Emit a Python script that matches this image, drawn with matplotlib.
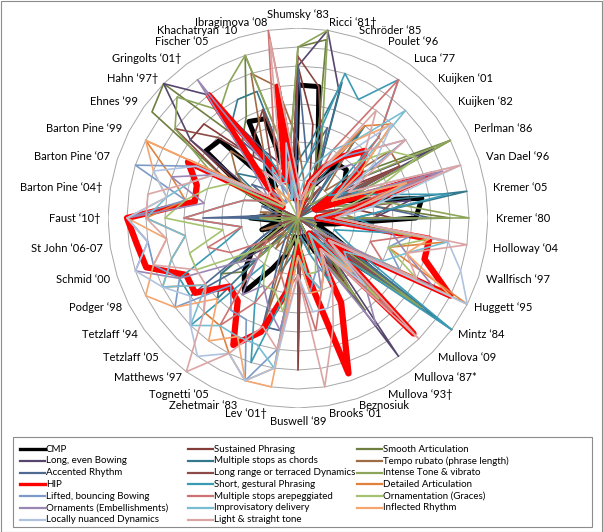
import numpy as np
import matplotlib
matplotlib.use('Agg')
import matplotlib.pyplot as plt
from matplotlib.lines import Line2D
from matplotlib.patches import Rectangle

plt.rcParams['font.family'] = ['Lato', 'DejaVu Sans']

# performers, clockwise from the top
performers = ["Shumsky \u201883", "Ricci \u201881\u2020", "Schr\u00f6der \u201885", "Poulet \u201896",
              "Luca \u201877", "Kuijken \u201801", "Kuijken \u201882", "Perlman \u201886",
              "Van Dael \u201896", "Kremer \u201805", "Kremer \u201880", "Holloway \u201804",
              "Wallfisch \u201897", "Huggett \u201895", "Mintz \u201884", "Mullova \u201809",
              "Mullova \u201887*", "Mullova \u201893\u2020", "Beznosiuk", "Brooks \u201801",
              "Buswell \u201889", "Lev \u201801\u2020", "Zehetmair \u201883", "Tognetti \u201805",
              "Matthews \u201897", "Tetzlaff \u201805", "Tetzlaff \u201894", "Podger \u201898",
              "Schmid \u201800", "St John \u201806-07", "Faust \u201810\u2020", "Barton Pine \u201804\u2020",
              "Barton Pine \u201807", "Barton Pine \u201899", "Ehnes \u201899", "Hahn \u201897\u2020",
              "Gringolts \u201801\u2020", "Fischer \u201805", "Khachatryan \u201810", "Ibragimova \u201808"]

# scores per performer (same order as above)
cmp_ = [7, 7, 3.4, 2, 3.5, 3.6, 3, 2, 3, 6.6, 6.2, 2, 1, 2, 6.5, 2, 4, 2, 1, 1,
        2, 1, 2, 3, 4.8, 4, 3, 1, 2, 1, 2.5, 1, 1, 3, 6, 5.8, 2, 5.7, 5.5, 1]
sustained = [8, 5, 2, 1, 0, 1, 2, 6, 1, 3, 5, 0, 1, 0, 6, 2, 4, 1, 0, 1,
             8, 0, 2, 0, 1, 3, 2, 0, 1, 0, 1, 0, 0, 3, 7, 7, 4, 5, 6, 2]
smooth = [9, 9.5, 3, 2, 1, 0, 4, 9, 2, 4, 8, 1, 0, 2, 7, 1, 6, 2, 0, 0,
          2, 1, 0, 1, 0, 4, 5, 1, 0, 1, 2, 0, 1, 4, 9.5, 10, 5, 6, 9, 3]
long_bow = [8, 10, 7, 2, 1, 0, 3, 8, 1, 6, 4, 0, 1, 0, 5, 2, 9, 1, 0, 0,
            3, 0, 1, 0, 1, 2, 4, 0, 1, 0, 1, 0, 0, 2, 7, 10, 8, 4, 3, 1]
chords = [3, 4, 7.5, 2, 6, 1, 0, 5, 2, 9, 3, 1, 0, 2, 10, 1, 2, 3, 0, 0,
          1, 2, 3, 1, 0, 6, 5, 2, 1, 1, 3, 1, 0, 2, 4, 3, 6, 7, 7, 2]
rubato = [4, 2, 1, 3, 5, 2, 6, 6, 1, 2, 3, 1, 0, 1, 3, 5, 2, 1, 2, 1,
          2, 1, 6, 1, 2, 1, 3, 1, 2, 0, 1, 2, 1, 3, 4, 5, 3, 4, 8, 7]
accented = [8, 3, 5, 2, 3, 1, 2, 3, 1, 4, 7, 1, 0, 2, 8, 1, 3, 2, 1, 0,
            2, 6, 6, 2, 1, 3, 7, 2, 1, 0, 5, 1, 2, 1, 3, 2, 5, 3, 2, 1]
long_dyn = [8.5, 7, 4, 1, 2, 0, 1, 6, 1, 5, 4, 0, 1, 0, 5, 2, 5, 1, 0, 1,
            7, 0, 1, 0, 1, 2, 3, 0, 1, 0, 2, 1, 0, 4, 8, 6, 4, 3, 6, 2]
intense = [9, 10, 4, 2, 1, 1, 3, 9, 2, 5, 9, 0, 1, 1, 8, 2, 5, 2, 0, 0,
           2, 1, 2, 0, 1, 3, 4, 1, 0, 1, 2, 0, 1, 5, 8, 9, 7, 8, 9, 3]
hip = [1, 0.5, 2, 3, 4, 5, 4, 1, 7.5, 3, 1, 7, 7, 9, 2, 8.6, 1, 5, 8.6, 3,
       1.5, 4, 6.3, 7.5, 5.4, 5.1, 6.7, 6.6, 8.4, 8.6, 9, 5.5, 5.6, 6.5, 1, 2, 8, 3, 2, 7]
short_phr = [2, 3, 8, 7, 9, 6, 2, 3, 4, 8, 3, 5, 2, 3, 10, 2, 1, 4, 2, 1,
             1, 4, 8, 5, 3, 8, 7, 7, 4, 3, 6, 4, 3, 2, 1, 2, 3, 4, 2, 1]
detailed = [1, 0, 2, 3, 6, 7, 4, 2, 7, 3, 2, 8, 5, 10, 1, 4, 1, 3, 4, 3,
            1, 8, 9, 8, 7, 7, 6, 8, 7, 6, 8, 6, 7, 9, 2, 1, 2, 1, 1, 2]
lifted = [0, 1, 2, 3, 4, 5, 7, 2, 7, 3, 1, 6, 5, 6, 2, 4, 1, 3, 3, 4,
          2, 7, 9, 6, 6, 5, 8, 7, 8, 8, 9, 6, 9, 6, 1, 2, 1, 2, 1, 3]
arpeggiated = [2, 1, 1, 4, 9, 6, 3, 2, 7, 2, 1, 6, 4, 5, 2, 7, 2, 3, 4, 6,
               3, 4, 3, 5, 7, 3, 2, 4, 5, 3, 6, 4, 3, 2, 1, 2, 3, 2, 4, 10]
graces = [1, 0, 1, 2, 3, 4, 6, 7, 4, 2, 1, 7, 5, 7, 1, 6, 1, 2, 3, 3,
          1, 5, 4, 4, 3, 2, 3, 6, 6, 4, 7, 6, 5, 4, 1, 1, 2, 1, 0, 2]
ornaments = [0, 1, 2, 2, 3, 4, 4, 2, 8, 3, 1, 5, 6, 8, 1, 5, 7, 2, 4, 3,
             2, 6, 5, 4, 5, 3, 4, 7, 9, 8, 9, 5, 7, 5, 2, 3, 9, 2, 1, 3]
improvisatory = [1, 2, 3, 4, 5, 8, 3, 2, 6, 4, 2, 8, 6, 5, 3, 4, 1, 3, 4, 3,
                 2, 8, 7, 7, 7, 8, 6, 8, 7, 6, 8, 7, 6, 5, 2, 1, 2, 3, 1, 2]
inflected = [1, 0, 2, 3, 5, 7, 4, 2, 6, 3, 2, 7, 6, 9, 2, 4, 2, 3, 4, 4,
             2, 9, 9, 7, 8, 6, 8, 9, 8, 7, 9, 7, 8, 9, 2, 1, 2, 1, 2, 3]
local_dyn = [1, 1, 2, 3, 4, 7, 5, 3, 9, 4, 2, 8, 9, 10, 2, 5, 2, 4, 5, 5,
             3, 8, 9, 8, 9, 8, 7, 8, 9, 8, 9, 7, 8, 6, 2, 2, 3, 2, 2, 4]
light_tone = [2, 1, 2, 3, 7, 5, 7, 3, 9, 3, 2, 9, 6, 7, 2, 9, 2, 4, 6, 9,
              3, 7, 6, 8, 10, 7, 6, 6, 8, 7, 8, 8, 6, 5, 2, 2, 3, 2, 3, 9.5]

# drawing order as in the workbook
series = [
    ("CMP", cmp_, "#000000", 3.6),
    ("Sustained Phrasing", sustained, "#843C39", 1.2),
    ("Smooth Articulation", smooth, "#6E7F41", 1.2),
    ("Long, even Bowing", long_bow, "#56466E", 1.2),
    ("Multiple stops as chords", chords, "#33788C", 1.2),
    ("Tempo rubato (phrase length)", rubato, "#A06C44", 1.2),
    ("Accented Rhythm", accented, "#506991", 1.2),
    ("Long range or terraced Dynamics", long_dyn, "#8C4B48", 1.2),
    ("Intense Tone & vibrato", intense, "#8CA55A", 1.2),
    ("HIP", hip, "#FF0000", 4.5),
    ("Short, gestural Phrasing", short_phr, "#3C9BB4", 1.2),
    ("Detailed Articulation", detailed, "#E1823C", 1.2),
    ("Lifted, bouncing Bowing", lifted, "#7D9BC8", 1.2),
    ("Multiple stops arepeggiated", arpeggiated, "#CD7371", 1.2),
    ("Ornamentation (Graces)", graces, "#A5C36E", 1.2),
    ("Ornaments (Embellishments)", ornaments, "#9B87B4", 1.2),
    ("Improvisatory delivery", improvisatory, "#78BED2", 1.2),
    ("Inflected Rhythm", inflected, "#F5A56E", 1.2),
    ("Locally nuanced Dynamics", local_dyn, "#AFC3E1", 1.2),
    ("Light & straight tone", light_tone, "#DCA5A5", 1.2),
]

W, H = 603, 532
fig = plt.figure(figsize=(W / 100, H / 100), dpi=100)
fig.patches.append(Rectangle((0.5 / W, 0.5 / H), 1 - 1.5 / W, 1 - 1.5 / H, transform=fig.transFigure,
                             fill=False, edgecolor='#8c8c8c', lw=0.8))

cx, cy, R = 298, 218, 190
ax = fig.add_axes([(cx - R) / W, 1 - (cy + R) / H, 2 * R / W, 2 * R / H])
ax.set_xlim(-10, 10)
ax.set_ylim(-10, 10)
ax.set_aspect('equal')
ax.axis('off')

n = len(performers)
theta = np.arange(n) * 2 * np.pi / n
tc = np.append(theta, theta[0])

# polygon gridlines
for level in range(1, 11):
    ax.plot(level * np.sin(tc), level * np.cos(tc), color='#a6a6a6', lw=0.7, zorder=0)

for name, vals, col, lw in series:
    v = np.append(vals, vals[0])
    ax.plot(v * np.sin(tc), v * np.cos(tc), color=col, lw=lw, solid_joinstyle='round', zorder=2)

# category labels
rl = 10.4
for t, lab in zip(theta, performers):
    s, c = np.sin(t), np.cos(t)
    if abs(s) < 1e-6:
        ha = 'center'
        va = 'bottom' if c > 0 else 'top'
    else:
        ha = 'left' if s > 0 else 'right'
        va = 'center'
    ax.text(rl * s, rl * c, lab, ha=ha, va=va, fontsize=8, clip_on=False)

# legend box
lx0, ly0, lx1, ly1 = 13, 437, 592, 527
fig.patches.append(Rectangle((lx0 / W, 1 - ly1 / H), (lx1 - lx0) / W, (ly1 - ly0) / H,
                             transform=fig.transFigure, fill=False, edgecolor='#8c8c8c', lw=0.8))
legend_order = [0, 3, 6, 9, 12, 15, 18, 1, 4, 7, 10, 13, 16, 19, 2, 5, 8, 11, 14, 17]
col_x = [20, 188, 357]
for k, si in enumerate(legend_order):
    name, vals, col, lw = series[si]
    cidx, ridx = divmod(k, 7)
    x0 = col_x[cidx]
    y = 449 + ridx * 11.8
    fig.add_artist(Line2D([x0 / W, (x0 + 25) / W], [1 - y / H, 1 - y / H], color=col,
                          lw=2.4 if lw > 2 else 1.6, transform=fig.transFigure))
    fig.text((x0 + 26) / W, 1 - y / H, name, ha='left', va='center', fontsize=7)

fig.savefig('out.png', dpi=100)
